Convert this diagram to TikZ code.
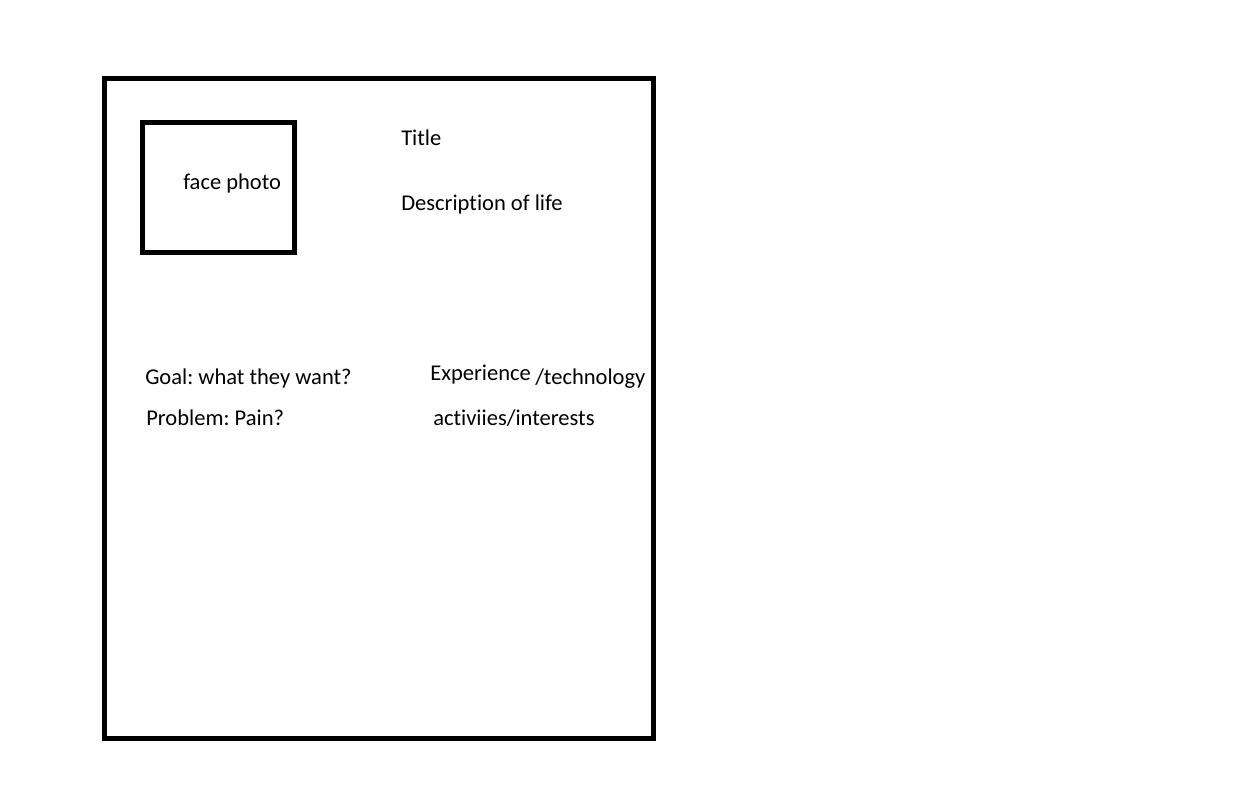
\documentclass[tikz,border=0pt]{standalone}
\usepackage{fontspec}
\setmainfont[Ligatures={NoCommon}]{Carlito}
\frenchspacing
\begin{document}
\begin{tikzpicture}[x=0.75pt,y=-0.75pt,
  frame/.style={draw=black,line width=3.75pt,inner sep=0pt,outer sep=0pt,anchor=north west},
  label/.style={anchor=base west,inner sep=0pt,font=\fontsize{16.9pt}{20pt}\selectfont}]
  \useasboundingbox (0,0) rectangle (1238,791);
  % persona card outline
  \node[frame,minimum width=549*0.75pt,minimum height=660*0.75pt] (card) at (104.5,78.5) {};
  % photo placeholder
  \node[frame,minimum width=151.5*0.75pt,minimum height=130*0.75pt] (photo) at (142.5,122.5) {};
  \node[label] (facephoto) at (183,190) {face photo};
  % header texts
  \node[label] (title) at (401,146) {Title};
  \node[label] (desc) at (401,211) {Description of life};
  % left column
  \node[label] (goal) at (145,384) {Goal: what they want?};
  \node[label] (problem) at (146,425) {Problem: Pain?};
  % right column
  \node[label] (exp) at (430,381) {Experience};
  \node[label] (tech) at (535,384) {/technology};
  \node[label] (act) at (433,425) {activiies/interests};
\end{tikzpicture}
\end{document}
